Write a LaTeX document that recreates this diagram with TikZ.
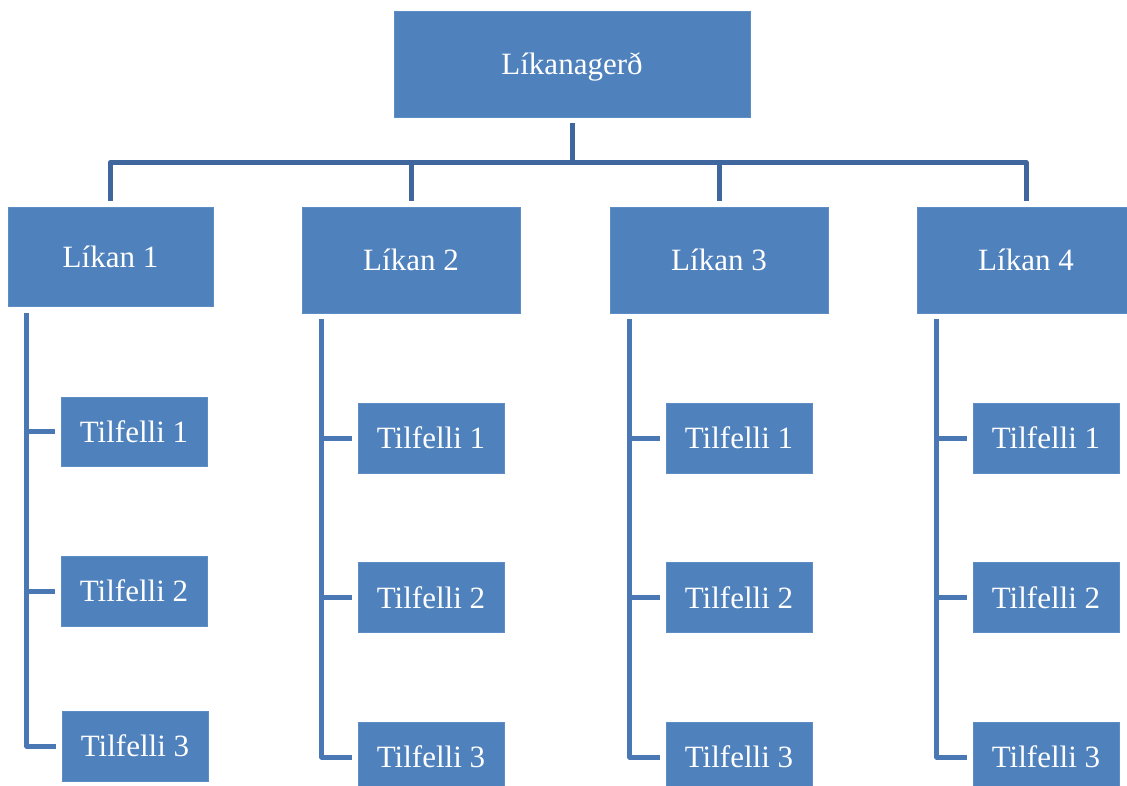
\documentclass[tikz,border=0pt]{standalone}
\usepackage{fontspec}
\setmainfont{Liberation Serif}
\definecolor{boxblue}{HTML}{4F81BD}
\definecolor{boxedge}{HTML}{5E8DC6}
\definecolor{barblue}{HTML}{40679D}
\definecolor{colblue}{HTML}{4A78B4}
\begin{document}
\begin{tikzpicture}[x=1pt,y=1pt,
  box/.style={rectangle, fill=boxblue, draw=boxedge, line width=0.6pt, text=white,
    inner sep=0pt, text depth=0pt, font=\fontsize{31}{36}\selectfont},
  topbar/.style={draw=barblue, line width=5pt, line join=round},
  colline/.style={draw=colblue, line width=5pt, line join=round}]
\useasboundingbox (0,0) rectangle (1127,-785);
\fill[white] (0,0) rectangle (1127,-785);
% top
\node[box, minimum width=356, minimum height=106] (top) at (572,-64) {Líkanagerð};
% level 2
\node[box, minimum width=205, minimum height=99] (L1) at (110.5,-256.5) {Líkan 1};
\node[box, minimum width=218, minimum height=106] (L2) at (411,-260) {Líkan 2};
\node[box, minimum width=218, minimum height=106] (L3) at (719,-260) {Líkan 3};
\node[box, minimum width=218, minimum height=106] (L4) at (1026,-260) {Líkan 4};
% level 3, column 1
\node[box, minimum width=146, minimum height=69] (T11) at (134,-431.5) {Tilfelli 1};
\node[box, minimum width=146, minimum height=70] (T12) at (134,-591) {Tilfelli 2};
\node[box, minimum width=146, minimum height=70] (T13) at (135,-746) {Tilfelli 3};
% columns 2-4
\foreach \c/\x in {2/431, 3/739, 4/1046}{
  \node[box, minimum width=146, minimum height=70] (T\c1) at (\x,-438) {Tilfelli 1};
  \node[box, minimum width=146, minimum height=70] (T\c2) at (\x,-597.5) {Tilfelli 2};
  \node[box, minimum width=146, minimum height=70] (T\c3) at (\x,-757) {Tilfelli 3};
}
% top connectors
\coordinate (tb) at ([yshift=-6]top.south);
\coordinate (bar) at ([yshift=-45]top.south);
\foreach \i in {1,2,3,4}{
  \draw[topbar] (tb) -- (bar) -| ([yshift=6]L\i.north);
}
% column connectors
\coordinate (c1) at ([xshift=19,yshift=-7]L1.south west);
\foreach \c in {2,3,4}{
  \coordinate (c\c) at ([xshift=20,yshift=-6]L\c.south west);
}
\foreach \c in {1,2,3,4}{
  \draw[colline] (c\c) |- ([xshift=-6]T\c3.west);
  \draw[colline] (c\c |- T\c1.west) -- ([xshift=-6]T\c1.west);
  \draw[colline] (c\c |- T\c2.west) -- ([xshift=-6]T\c2.west);
}
\end{tikzpicture}
\end{document}
